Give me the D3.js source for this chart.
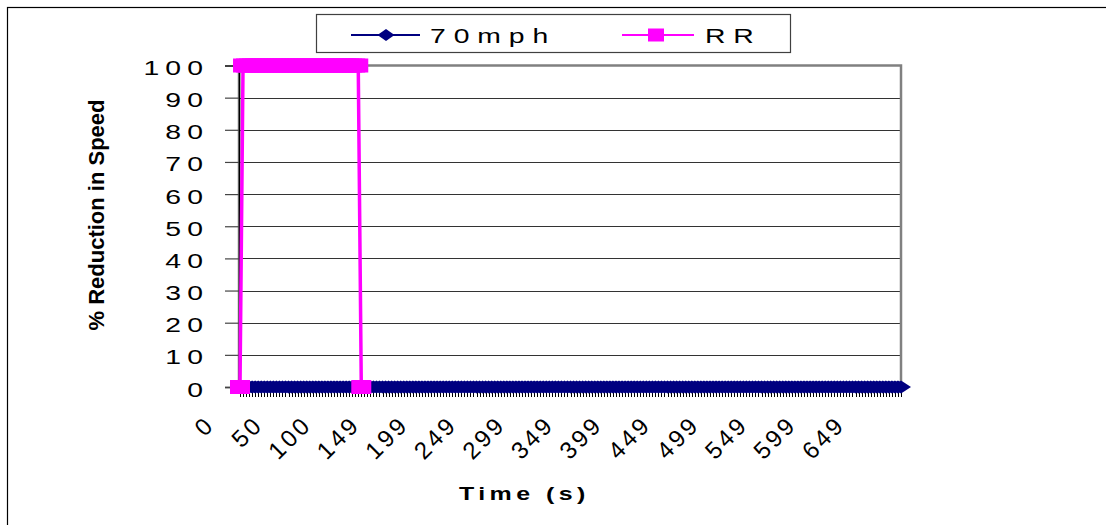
<!DOCTYPE html>
<html>
<head>
<meta charset="utf-8">
<script src="https://cdn.jsdelivr.net/npm/d3@7"></script>
<style>
  html, body { margin: 0; padding: 0; background: #fff; }
  svg { display: block; }
  text { font-family: "Liberation Sans", Arial, sans-serif; fill: #000; }
</style>
</head>
<body>
<svg id="chart" width="1106" height="525"></svg>
<script>
// ---- data ----
const seriesNames = ["7 0 m p h", "R R"];
// 70 mph: every sample is 0 (219 samples)
const speed70 = [
  0,0,0,0,0,0,0,0,0,0,0,0,0,0,0,0,0,0,0,0,
  0,0,0,0,0,0,0,0,0,0,0,0,0,0,0,0,0,0,0,0,
  0,0,0,0,0,0,0,0,0,0,0,0,0,0,0,0,0,0,0,0,
  0,0,0,0,0,0,0,0,0,0,0,0,0,0,0,0,0,0,0,0,
  0,0,0,0,0,0,0,0,0,0,0,0,0,0,0,0,0,0,0,0,
  0,0,0,0,0,0,0,0,0,0,0,0,0,0,0,0,0,0,0,0,
  0,0,0,0,0,0,0,0,0,0,0,0,0,0,0,0,0,0,0,0,
  0,0,0,0,0,0,0,0,0,0,0,0,0,0,0,0,0,0,0,0,
  0,0,0,0,0,0,0,0,0,0,0,0,0,0,0,0,0,0,0,0,
  0,0,0,0,0,0,0,0,0,0,0,0,0,0,0,0,0,0,0,0,
  0,0,0,0,0,0,0,0,0,0,0,0,0,0,0,0,0,0,0
];
// RR: only the first samples are present
const rrValues = [
  0,
  100,100,100,100,100,100,100,100,100,100,
  100,100,100,100,100,100,100,100,100,100,
  100,100,100,100,100,100,100,100,100,100,
  100,100,100,100,100,100,100,100,100,
  0
];
const xTickLabels = ["0","50","100","149","199","249","299","349","399","449","499","549","599","649"];
const xTickEvery = 16;
const yTicks = [0,10,20,30,40,50,60,70,80,90,100];
const yTitle = "% Reduction in Speed";
const xTitle = "Time (s)";

// ---- layout ----
const svg = d3.select("#chart");
const SX = 1.35; // horizontal stretch of the text
const plot = { left: 239, right: 901, top: 65.5, bottom: 387 };

const idx = d3.range(speed70.length);
const x = d3.scalePoint().domain(idx).range([240, 901]);
const y = d3.scaleLinear().domain([0, 100]).range([plot.bottom, plot.top]);

function sText(g, tx, ty, str, o) {
  o = o || {};
  const sx = o.sx == null ? SX : o.sx;
  const t = g.append("text")
    .attr("transform", `translate(${tx},${ty})` + (sx !== 1 ? ` scale(${sx},1)` : "") + (o.rot ? ` rotate(${o.rot})` : ""))
    .attr("text-anchor", o.anchor || "start")
    .style("font-size", (o.size || 21) + "px")
    .style("font-weight", o.bold ? "bold" : "normal")
    .style("letter-spacing", (o.ls || 0) + "px")
    .text(str);
  return t;
}

// outer chart border (cut by the window on right and bottom)
svg.append("rect").attr("x", 7.5).attr("y", 7.5).attr("width", 1200).attr("height", 700)
  .attr("fill", "none").attr("stroke", "#000").attr("stroke-width", 1.2);

// gridlines
svg.append("g").selectAll("line").data(yTicks.filter(v => v > 0 && v < 100)).join("line")
  .attr("x1", plot.left).attr("x2", plot.right)
  .attr("y1", d => Math.round(y(d)) + 0.5).attr("y2", d => Math.round(y(d)) + 0.5)
  .attr("stroke", "#333").attr("stroke-width", 1);

// plot border (grey)
svg.append("rect").attr("x", plot.left).attr("y", plot.top)
  .attr("width", plot.right - plot.left).attr("height", plot.bottom - plot.top)
  .attr("fill", "none").attr("stroke", "#808080").attr("stroke-width", 2.5);

// y axis
const yAxis = d3.axisLeft(y).tickValues(yTicks).tickSize(14).tickFormat("");
const gy = svg.append("g").attr("transform", `translate(${plot.left},0)`).call(yAxis);
gy.select(".domain").attr("stroke", "#000").attr("stroke-width", 1.5);
gy.selectAll(".tick line").attr("stroke", "#444").attr("stroke-width", 1.2);
const gyl = svg.append("g");
yTicks.forEach(v => {
  sText(gyl, 209, y(v) + 9.5, String(v), { anchor: "end", ls: 4.5 });
});

// x category ticks (one per category)
const xAxis = d3.axisBottom(x).tickValues(idx).tickSize(10).tickFormat("");
const gx = svg.append("g").attr("transform", `translate(0,${plot.bottom})`).call(xAxis);
gx.select(".domain").attr("stroke", "#000").attr("stroke-width", 1);
gx.selectAll(".tick line").attr("stroke", "#000").attr("stroke-width", 1).attr("shape-rendering", "crispEdges");

// x tick labels (rotated)
const gxl = svg.append("g");
xTickLabels.forEach((lab, k) => {
  sText(gxl, x(k * xTickEvery) - 24, 426, lab, { anchor: "end", ls: 3, rot: -45, sx: 1, size: 24 });
});

// series
const line = d3.line().defined(d => d.v != null).x(d => x(d.i)).y(d => y(d.v));
const d70 = speed70.map((v, i) => ({ i, v }));
const dRR = rrValues.map((v, i) => ({ i, v }));

svg.append("path").datum(d70).attr("d", line).attr("fill", "none")
  .attr("stroke", "#000080").attr("stroke-width", 2);
const diamond = (cx, cy, hw, hh) => `M${cx - hw},${cy} L${cx},${cy - hh} L${cx + hw},${cy} L${cx},${cy + hh} Z`;
svg.append("g").selectAll("path").data(d70).join("path")
  .attr("d", d => diamond(x(d.i), y(d.v), 10, 6.5)).attr("fill", "#000080");

svg.append("path").datum(dRR).attr("d", line).attr("fill", "none")
  .attr("stroke", "#FF00FF").attr("stroke-width", 3.5);
svg.append("g").selectAll("rect").data(dRR.filter(d => d.v != null)).join("rect")
  .attr("x", d => x(d.i) - 10).attr("y", d => y(d.v) - 7).attr("width", 20).attr("height", 14)
  .attr("fill", "#FF00FF");

// axis titles
svg.append("text")
  .attr("transform", `translate(103.5,215) rotate(-90)`)
  .attr("text-anchor", "middle")
  .style("font-size", "22px").style("font-weight", "bold")
  .text(yTitle);
sText(svg, 522 + 3.5 * SX / 2, 500, xTitle, { anchor: "middle", bold: true, size: 18.5, ls: 3.3 });

// legend
const lg = svg.append("g");
lg.append("rect").attr("x", 316.5).attr("y", 14.5).attr("width", 474).attr("height", 38)
  .attr("fill", "#fff").attr("stroke", "#404040").attr("stroke-width", 1.2);
lg.append("line").attr("x1", 351).attr("x2", 420).attr("y1", 35).attr("y2", 35)
  .attr("stroke", "#000080").attr("stroke-width", 2);
lg.append("path").attr("d", diamond(386, 35, 8.5, 6)).attr("fill", "#000080");
sText(lg, 430, 43, seriesNames[0], { size: 21, ls: 0 });
lg.append("line").attr("x1", 622).attr("x2", 694).attr("y1", 35).attr("y2", 35)
  .attr("stroke", "#FF00FF").attr("stroke-width", 2);
lg.append("rect").attr("x", 648).attr("y", 28.5).attr("width", 16).attr("height", 13).attr("fill", "#FF00FF");
sText(lg, 705, 43, seriesNames[1], { size: 21, ls: 0 });
</script>
</body>
</html>
